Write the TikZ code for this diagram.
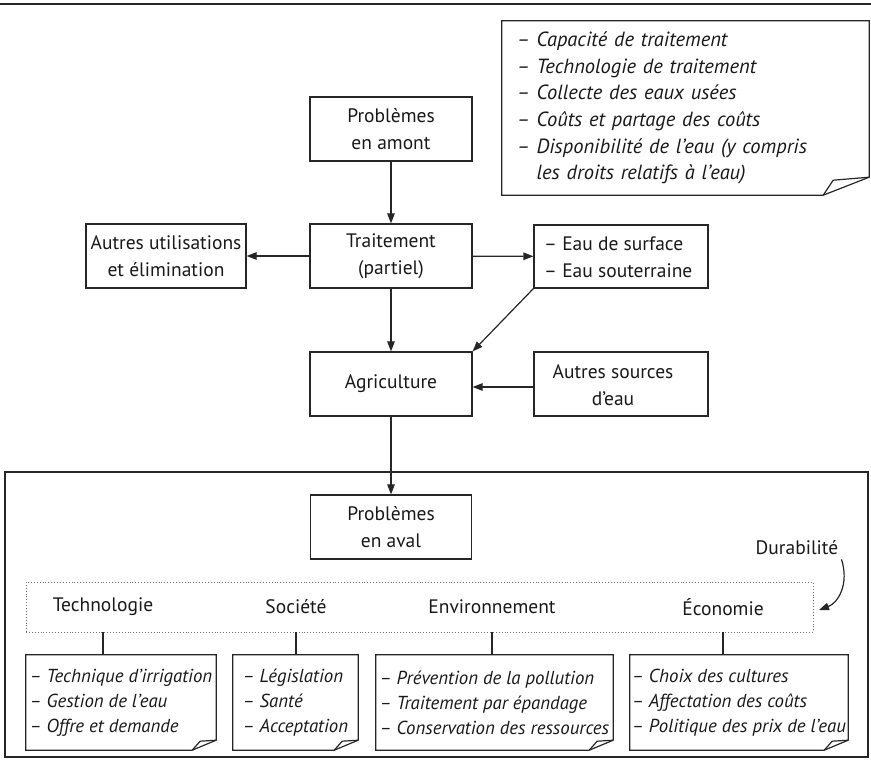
\documentclass[tikz,border=0pt]{standalone}
\usepackage{fontspec}
\setmainfont{PT Sans}
\usetikzlibrary{arrows.meta,calc}
\newcommand{\myfs}{\fontsize{19.5}{26.5}\selectfont}
\newcommand{\myfsb}{\fontsize{18.8}{25}\selectfont}
\newcommand{\myfsn}{\fontsize{20.5}{26.6}\selectfont}
\newcommand{\foldit}[5]{%
  \draw[line] (#1.north west) -- (#1.north east) -- ($(#1.south east)+(0pt,#3)$) -- ($(#1.south east)+(-#2,0pt)$) -- (#1.south west) -- cycle;
  \draw[line] ($(#1.south east)+(-#2,0pt)$) -- ($(#1.south east)+(-#4,#5)$) -- ($(#1.south east)+(0pt,#3)$);
}
\begin{document}
\begin{tikzpicture}[x=1pt,y=-1pt,
  line/.style={draw=black!85, line width=1.2pt, line join=miter},
  box/.style={line, rectangle, inner sep=0pt, align=center, font=\myfs, text=black!90},
  txt/.style={inner sep=0pt, align=center, font=\myfs, text=black!90},
  itxt/.style={inner sep=0pt, align=left, font=\myfsb\itshape, text=black!90},
  arr/.style={line, -{Triangle[length=10pt,width=7.5pt]}}]
\useasboundingbox (0,0) rectangle (871,767);
\draw[line] (0,4) -- (871,4);

% note top
\node[itxt, text width=337pt, minimum width=367pt, minimum height=174pt, inner xsep=15pt, font=\myfsn\itshape] (cond) at (685.5,108)
 {– Capacité de traitement\\– Technologie de traitement\\– Collecte des eaux usées\\– Coûts et partage des coûts\\– Disponibilité de l’eau (y compris\\\phantom{– }les droits relatifs à l’eau)};
\foldit{cond}{46pt}{18pt}{36pt}{15pt}

\node[box, minimum width=162pt, minimum height=64pt] (amont) at (391,129) {Problèmes\\en amont};
\node[box, minimum width=162pt, minimum height=64pt] (trait) at (391,256) {Traitement\\(partiel)};
\node[box, minimum width=160pt, minimum height=64pt] (autres) at (166,256) {Autres utilisations\\et élimination};
\node[box, minimum width=174pt, minimum height=63pt] (eau) at (621,256.5) {};
\node[txt, align=left, anchor=west] (eautxt) at (544,257) {– Eau de surface\\– Eau souterraine};
\node[box, minimum width=162pt, minimum height=64pt] (agri) at (391,384) {Agriculture};
\node[box, minimum width=174pt, minimum height=64pt] (src) at (621,384) {};
\node[txt] (srctxt) at (613,385) {Autres sources\\d’eau};

\draw[arr] (amont) -- (trait);
\draw[arr] (trait) -- (autres);
\draw[arr] (trait) -- (eau);
\draw[arr] (trait) -- (agri);
\draw[arr] (eau.south west) -- (agri.north east);
\draw[arr] (src.west |- 0,387) -- (agri.east |- 0,387);

% lower frame
\node[line, minimum width=863pt, minimum height=285pt] (frame) at (436.5,614.5) {};
\node[box, minimum width=161pt, minimum height=64pt] (aval) at (391,527) {Problèmes\\en aval};
\draw[arr] (agri) -- (aval);

\node[draw=black!55, dotted, line width=0.9pt, minimum width=787pt, minimum height=50pt, inner sep=0pt] (dot) at (419.5,607) {};
\node[txt] (ltech) at (103,607) {Technologie};
\node[txt] (lsoc) at (296,607) {Société};
\node[txt] (lenv) at (492,607) {Environnement};
\node[txt] (leco) at (723,607) {Économie};

\node[txt] (dur) at (797,548) {Durabilité};
\coordinate (durend) at (819,610);
\draw[arr] ($(dur.south east)+(3pt,-4pt)$) .. controls +(8pt,-25pt) and (838,603) .. (durend);

\node[itxt, minimum width=190pt, minimum height=95pt] (tech) at (121,702.5) {– Technique d’irrigation\\– Gestion de l’eau\\– Offre et demande};
\node[itxt, minimum width=125pt, minimum height=95pt] (soc) at (295.5,702.5) {– Législation\\– Santé\\– Acceptation};
\node[itxt, minimum width=237pt, minimum height=95pt] (env) at (494.5,702.5) {– Prévention de la pollution\\– Traitement par épandage\\– Conservation des ressources};
\node[itxt, minimum width=218pt, minimum height=95pt] (eco) at (739,702.5) {– Choix des cultures\\– Affectation des coûts\\– Politique des prix de l’eau};
\foldit{tech}{24pt}{10pt}{16pt}{9pt}
\foldit{soc}{24pt}{10pt}{16pt}{9pt}
\foldit{env}{24pt}{10pt}{16pt}{9pt}
\foldit{eco}{24pt}{10pt}{16pt}{9pt}

\draw[line] (ltech |- dot.south) -- (ltech |- tech.north);
\draw[line] (lsoc |- dot.south) -- (lsoc |- soc.north);
\draw[line] (lenv |- dot.south) -- (lenv |- env.north);
\draw[line] (leco |- dot.south) -- (leco |- eco.north);
\end{tikzpicture}
\end{document}
